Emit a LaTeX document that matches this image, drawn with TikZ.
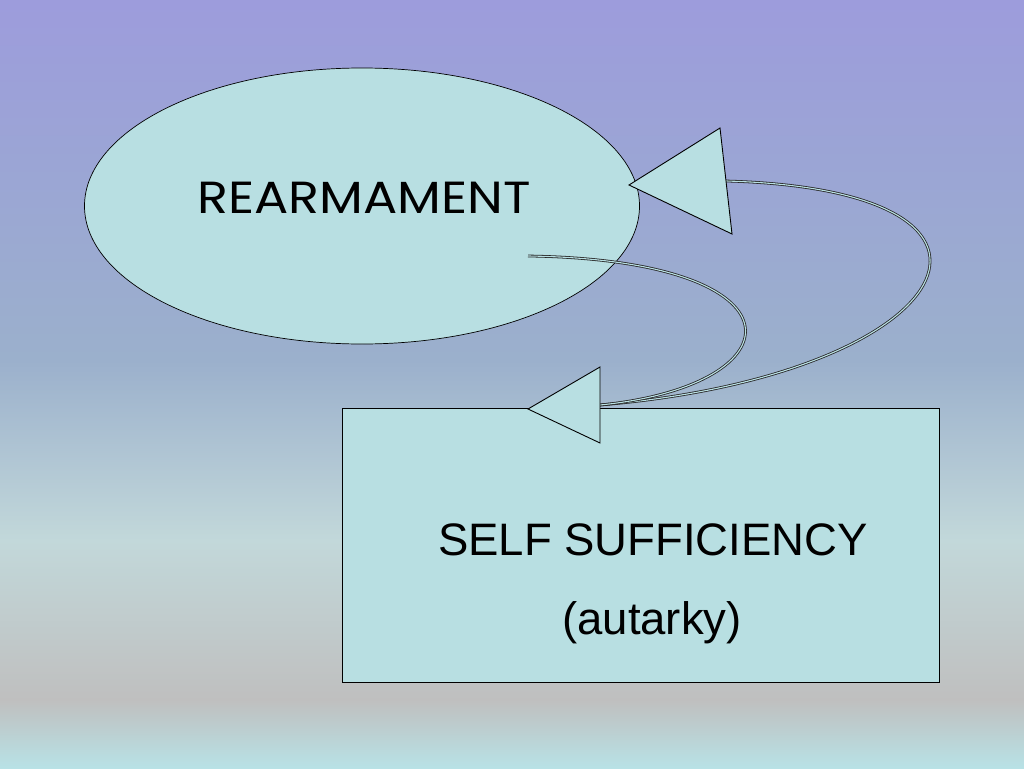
\documentclass[tikz,border=0pt]{standalone}
\usepackage{fontspec}
\setmainfont{Liberation Sans}
\newfontfamily\comicfont{Poppins}
\usetikzlibrary{shapes.geometric}
\definecolor{cfill}{HTML}{B8DFE2}
\definecolor{bgA}{HTML}{9D9CDC}
\definecolor{bgB}{HTML}{9BA6D4}
\definecolor{bgC}{HTML}{9BB0CC}
\definecolor{bgD}{HTML}{C2D8DA}
\definecolor{bgE}{HTML}{BFBFBF}
\definecolor{bgF}{HTML}{B8E2E6}
\tikzset{
  shapebox/.style={draw=black, fill=cfill, line width=0.7pt, inner sep=0pt},
  loopline/.style={draw=black!85, line width=0.8pt, double=cfill, double distance=1.1pt},
  headtri/.style={draw=black, fill=cfill, line width=0.9pt, line join=miter},
  comictext/.style={font=\comicfont\fontsize{45}{50}\selectfont, anchor=base, xscale=1.13},
  sanstext/.style={font=\fontsize{45.5}{50}\selectfont, anchor=base}
}
\begin{document}
\begin{tikzpicture}[x=1pt, y=-1pt]
\useasboundingbox (0,0) rectangle (1024,768);
% background gradient
\shade[top color=bgA, bottom color=bgB] (0,0) rectangle (1024,180.5);
\shade[top color=bgB, bottom color=bgC] (0,180) rectangle (1024,360.5);
\shade[top color=bgC, bottom color=bgD] (0,360) rectangle (1024,540.5);
\shade[top color=bgD, bottom color=bgE] (0,540) rectangle (1024,700.5);
\shade[top color=bgE, bottom color=bgF] (0,700) rectangle (1024,768);
% nodes
\node[shapebox, ellipse, minimum width=555pt, minimum height=276pt] (rearm) at (362,206) {};
\node[comictext] (rearmtxt) at (364,213) {REARMAMENT};
\node[shapebox, rectangle, minimum width=597pt, minimum height=274pt] (self) at (640.5,545) {};
\node[sanstext] (selftxt) at (653,555) {SELF SUFFICIENCY};
\node[sanstext] (auttxt) at (652,634) {(autarky)};
% arrowhead geometry
\coordinate (t1tip) at (629,185);
\coordinate (t1a) at (720,128);
\coordinate (t1b) at (732,234);
\coordinate (t1base) at (726,181);
\coordinate (t2tip) at (528,409);
\coordinate (t2a) at (600,367);
\coordinate (t2b) at (600,443);
\coordinate (t2base) at (600,405);
\coordinate (innerstart) at (528,256);
% connectors
\draw[loopline] (t1base) .. controls (1060,190) and (960,375) .. (t2base);
\draw[loopline] (innerstart) .. controls (810,260) and (800,385) .. (t2base);
% arrowheads
\draw[headtri] (t1tip) -- (t1a) -- (t1b) -- cycle;
\draw[headtri] (t2tip) -- (t2a) -- (t2b) -- cycle;
\end{tikzpicture}
\end{document}
